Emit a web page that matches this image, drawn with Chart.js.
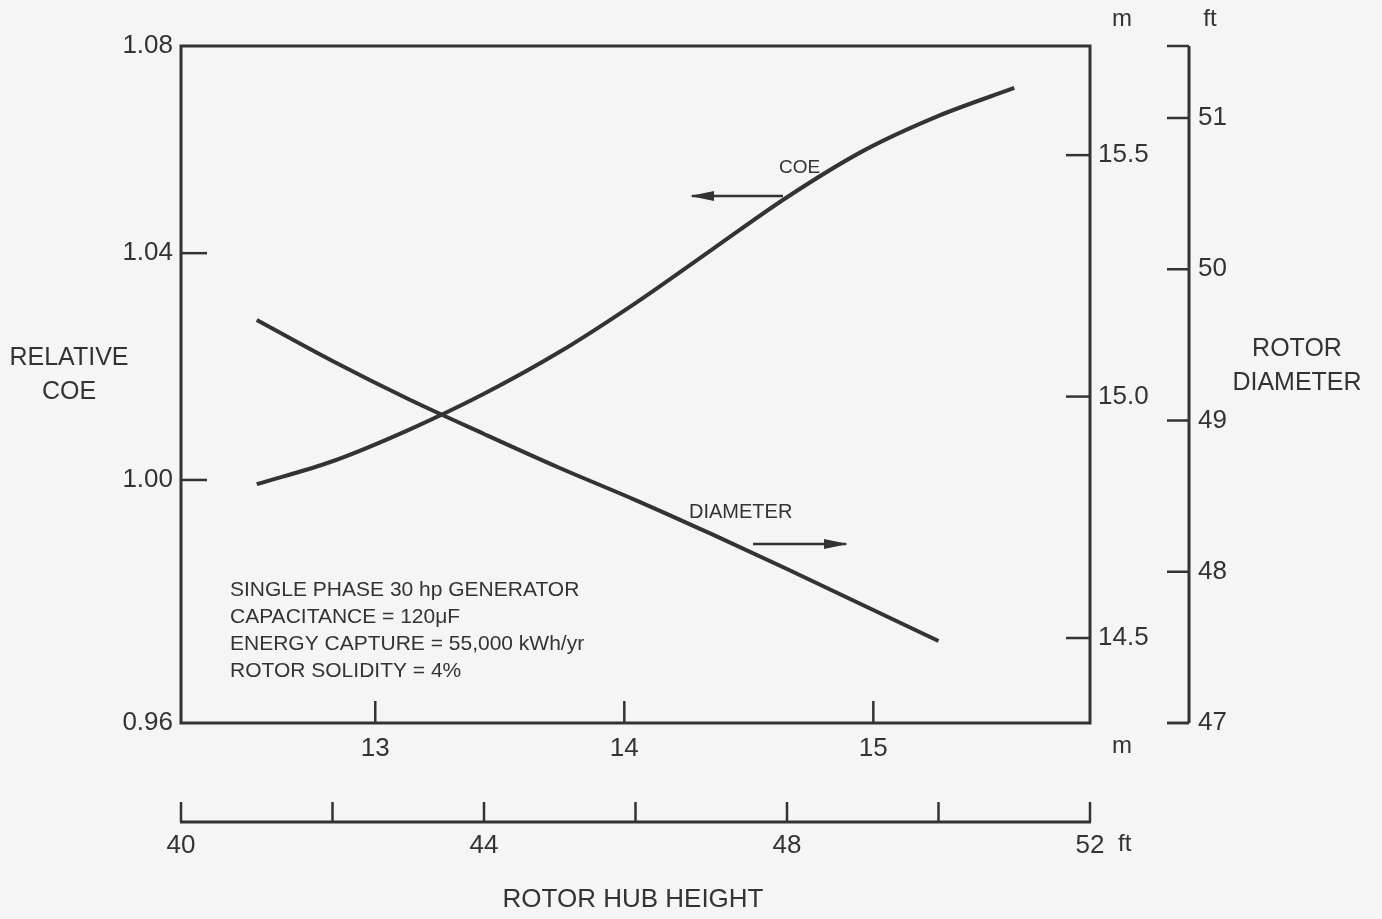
<!DOCTYPE html>
<html>
<head>
<meta charset="utf-8">
<script src="https://cdn.jsdelivr.net/npm/chart.js@4.4.1/dist/chart.umd.min.js"></script>
<style>
  html, body { margin: 0; padding: 0; background: #f5f5f5; }
  #wrap { width: 1382px; height: 919px; }
</style>
</head>
<body>
<div id="wrap"><canvas id="c" width="1382" height="919"></canvas></div>
<script>
// Rotor hub height (ft) sampled for both curves
const hubHeightFt = [41, 42, 43, 44, 45, 46, 47, 48, 49, 50, 51];
// Relative cost of energy at each hub height
const relativeCoe = [0.9993, 1.0033, 1.0088, 1.0152, 1.0226, 1.0312, 1.0406, 1.0508, 1.0597, 1.0665, 1.0719];
// Rotor diameter (ft) at each hub height (curve stops at 50 ft)
const diameterHubFt = [41, 42, 43, 44, 45, 46, 47, 48, 49, 50];
const rotorDiameterFt = [49.664, 49.393, 49.142, 48.911, 48.686, 48.474, 48.250, 48.018, 47.780, 47.542];

// Axis tick values
const coeTicks = [0.96, 1.00, 1.04, 1.08];
const coeTickFrac = [0, 0.359, 0.694, 1];   // printed spacing of the COE scale
const hubFtTicks = [40, 42, 44, 46, 48, 50, 52];
const hubFtLabels = [40, 44, 48, 52];
const hubMTicks = [13, 14, 15];
const diaMTicks = [14.5, 15.0, 15.5];
const diaFtTicks = [47, 48, 49, 50, 51];

const annotationLines = [
  'SINGLE PHASE 30 hp GENERATOR',
  'CAPACITANCE = 120\u03BCF',
  'ENERGY CAPTURE = 55,000 kWh/yr',
  'ROTOR SOLIDITY = 4%'
];

const INK = '#333333';
const FONT = '"Liberation Sans", Arial, Helvetica, sans-serif';

// Linear scale whose tick spacing follows the printed (slightly uneven) COE axis
class PrintedLinearScale extends Chart.LinearScale {
  _dec(value) {
    const v = coeTicks, f = coeTickFrac;
    if (value <= v[0]) return f[0] + (value - v[0]) / (v[1] - v[0]) * (f[1] - f[0]);
    for (let i = 1; i < v.length; i++) {
      if (value <= v[i] || i === v.length - 1) {
        return f[i - 1] + (value - v[i - 1]) / (v[i] - v[i - 1]) * (f[i] - f[i - 1]);
      }
    }
  }
  getPixelForValue(value) {
    if (value === null || value === undefined) return NaN;
    return this.getPixelForDecimal(this._dec(value));
  }
  getValueForPixel(pixel) {
    const d = this.getDecimalForPixel(pixel);
    const v = coeTicks, f = coeTickFrac;
    for (let i = 1; i < f.length; i++) {
      if (d <= f[i] || i === f.length - 1) {
        return v[i - 1] + (d - f[i - 1]) / (f[i] - f[i - 1]) * (v[i] - v[i - 1]);
      }
    }
  }
}
PrintedLinearScale.id = 'printedLinear';
PrintedLinearScale.defaults = Chart.LinearScale.defaults;
Chart.register(PrintedLinearScale);

const tickFont = { family: FONT, size: 26 };

function fixedTicks(values) {
  return (scale) => { scale.ticks = values.map(v => ({ value: v })); };
}

const decor = {
  id: 'decor',
  beforeDraw(chart) {
    const ctx = chart.ctx;
    ctx.save();
    ctx.fillStyle = '#f5f5f5';
    ctx.fillRect(0, 0, chart.width, chart.height);
    ctx.restore();
  },
  afterDraw(chart) {
    const { ctx, chartArea: a, scales } = chart;
    ctx.save();
    ctx.strokeStyle = INK;
    ctx.fillStyle = INK;

    // plot frame
    ctx.lineWidth = 3;
    ctx.strokeRect(a.left, a.top, a.right - a.left, a.bottom - a.top);

    ctx.lineWidth = 2.5;
    const seg = (x1, y1, x2, y2) => { ctx.beginPath(); ctx.moveTo(x1, y1); ctx.lineTo(x2, y2); ctx.stroke(); };

    // COE ticks pointing into the plot
    coeTicks.slice(1, -1).forEach(v => { const y = scales.y.getPixelForValue(v); seg(a.left, y, a.left + 26, y); });
    // hub height in metres along the frame bottom
    hubMTicks.forEach(v => { const x = scales.xm.getPixelForValue(v); seg(x, a.bottom, x, a.bottom - 22); });
    // rotor diameter in metres along the frame right
    diaMTicks.forEach(v => { const y = scales.yM.getPixelForValue(v); seg(a.right, y, a.right - 24, y); });

    // rotor diameter in feet: separate vertical axis
    const fx = scales.yFt.left;
    ctx.lineWidth = 3;
    seg(fx, a.top, fx, a.bottom);
    ctx.lineWidth = 2.5;
    [a.top, a.bottom].forEach(y => seg(fx, y, fx - 22, y));
    diaFtTicks.forEach(v => { const y = scales.yFt.getPixelForValue(v); seg(fx, y, fx - 22, y); });

    // hub height in feet: separate horizontal axis
    const fy = scales.x.top;
    ctx.lineWidth = 3;
    seg(scales.x.getPixelForValue(40) - 1, fy, scales.x.getPixelForValue(52) + 1, fy);
    ctx.lineWidth = 2.5;
    hubFtTicks.forEach(v => { const x = scales.x.getPixelForValue(v); seg(x, fy, x, fy - 20); });

    // axis titles and unit marks
    ctx.textBaseline = 'middle';
    ctx.textAlign = 'center';
    ctx.font = '25px ' + FONT;
    ctx.fillText('RELATIVE', 69, 358);
    ctx.fillText('COE', 69, 392);
    ctx.fillText('ROTOR', 1297, 349);
    ctx.fillText('DIAMETER', 1297, 383);
    ctx.font = '26px ' + FONT;
    ctx.fillText('ROTOR HUB HEIGHT', 633, 900);
    ctx.font = '24px ' + FONT;
    ctx.fillText('m', 1122, 19);
    ctx.fillText('ft', 1210, 19);
    ctx.textAlign = 'left';
    ctx.fillText('m', 1112, 746);
    ctx.fillText('ft', 1118, 844);

    // curve labels with direction arrows
    ctx.font = '19px ' + FONT;
    ctx.fillText('COE', 779, 168);
    ctx.font = '20px ' + FONT;
    ctx.fillText('DIAMETER', 689, 512);
    const arrow = (x1, x2, y) => {
      ctx.lineWidth = 2.5;
      seg(x1, y, x2, y);
      const dir = Math.sign(x2 - x1);
      ctx.beginPath();
      ctx.moveTo(x2 + dir * 2, y);
      ctx.lineTo(x2 - dir * 22, y - 5);
      ctx.lineTo(x2 - dir * 22, y + 5);
      ctx.closePath();
      ctx.fill();
    };
    arrow(783, 692, 196);
    arrow(753, 846, 544);

    // test conditions
    ctx.font = '21px ' + FONT;
    annotationLines.forEach((t, i) => ctx.fillText(t, 230, 590 + i * 27));

    ctx.restore();
  }
};

new Chart(document.getElementById('c'), {
  type: 'line',
  data: {
    datasets: [
      {
        label: 'COE',
        data: hubHeightFt.map((h, i) => ({ x: h, y: relativeCoe[i] })),
        xAxisID: 'x', yAxisID: 'y',
        borderColor: INK, borderWidth: 4, pointRadius: 0,
        cubicInterpolationMode: 'monotone', fill: false
      },
      {
        label: 'Diameter',
        data: diameterHubFt.map((h, i) => ({ x: h, y: rotorDiameterFt[i] })),
        xAxisID: 'x', yAxisID: 'yFt',
        borderColor: INK, borderWidth: 4, pointRadius: 0,
        cubicInterpolationMode: 'monotone', fill: false
      }
    ]
  },
  options: {
    responsive: false,
    animation: false,
    events: [],
    layout: { padding: { top: 46, left: 0, right: 0, bottom: 0 } },
    plugins: { legend: { display: false }, tooltip: { enabled: false }, title: { display: false } },
    scales: {
      y: {
        type: 'printedLinear', position: 'left', min: 0.96, max: 1.08,
        afterBuildTicks: fixedTicks(coeTicks),
        afterFit: s => { s.width = 181; },
        grid: { display: false }, border: { display: false },
        ticks: { font: tickFont, color: INK, padding: 0, autoSkip: false, callback: v => v.toFixed(2) }
      },
      xm: {
        type: 'linear', position: 'bottom', weight: 0, min: 12.22, max: 15.87,
        afterBuildTicks: fixedTicks(hubMTicks),
        afterFit: s => { s.height = 99; },
        grid: { display: false }, border: { display: false },
        ticks: { font: tickFont, color: INK, padding: 2, autoSkip: false, maxRotation: 0, callback: v => String(v) }
      },
      x: {
        type: 'linear', position: 'bottom', weight: 1, min: 40, max: 52,
        afterBuildTicks: fixedTicks(hubFtTicks),
        afterFit: s => { s.height = 97; },
        grid: { display: false }, border: { display: false },
        ticks: { font: tickFont, color: INK, padding: 0, autoSkip: false, maxRotation: 0,
                 callback: v => hubFtLabels.includes(v) ? String(v) : '' }
      },
      yM: {
        type: 'linear', position: 'right', weight: 0, min: 14.324, max: 15.726,
        afterBuildTicks: fixedTicks(diaMTicks),
        afterFit: s => { s.width = 99; },
        grid: { display: false }, border: { display: false },
        ticks: { font: tickFont, color: INK, padding: 0, autoSkip: false, callback: v => v.toFixed(1) }
      },
      yFt: {
        type: 'linear', position: 'right', weight: 1, min: 47, max: 51.476,
        afterBuildTicks: fixedTicks(diaFtTicks),
        afterFit: s => { s.width = 193; },
        grid: { display: false }, border: { display: false },
        ticks: { font: tickFont, color: INK, padding: 1, autoSkip: false, callback: v => String(v) }
      }
    }
  },
  plugins: [decor]
});
</script>
</body>
</html>
